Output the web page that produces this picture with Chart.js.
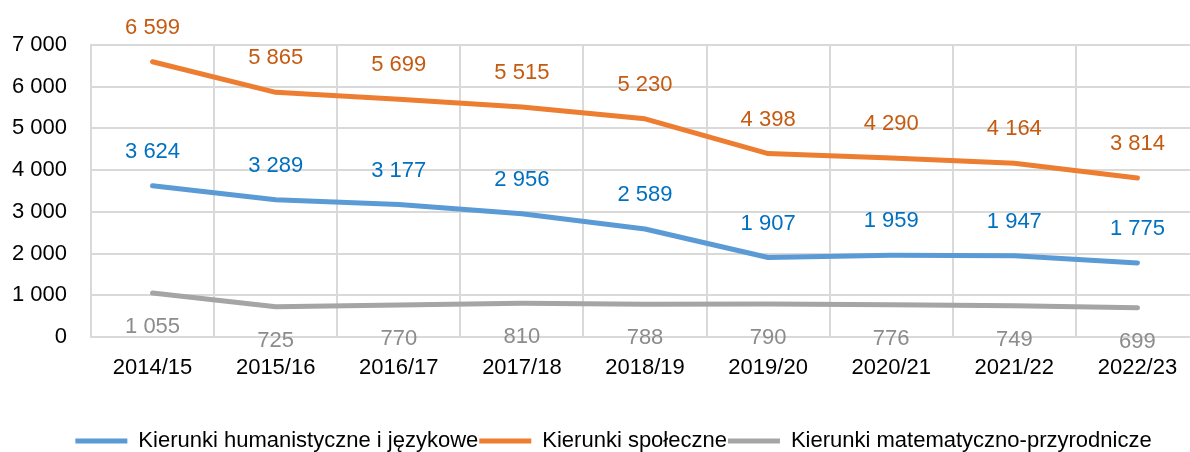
<!DOCTYPE html>
<html>
<head>
<meta charset="utf-8">
<script src="https://cdn.jsdelivr.net/npm/chart.js@4"></script>
<style>
  html, body { margin: 0; padding: 0; background: #fff; overflow: hidden; }
  #wrap { width: 1200px; height: 462px; position: relative; }
</style>
</head>
<body>
<div id="wrap"><canvas id="kierunkiChart"></canvas></div>
<script>
var years = ['2014/15', '2015/16', '2016/17', '2017/18', '2018/19', '2019/20', '2020/21', '2021/22', '2022/23'];
var humanistyczne = [3624, 3289, 3177, 2956, 2589, 1907, 1959, 1947, 1775];
var spoleczne = [6599, 5865, 5699, 5515, 5230, 4398, 4290, 4164, 3814];
var matematyczne = [1055, 725, 770, 810, 788, 790, 776, 749, 699];
var yTicks = [0, 1000, 2000, 3000, 4000, 5000, 6000, 7000];

var FONT = "'Liberation Sans', Arial, sans-serif";

function fmt(n) {
    return String(n).replace(/\B(?=(\d{3})+(?!\d))/g, ' ');
}

// simple data labels, above or below each point
var pointLabels = {
    id: 'pointLabels',
    afterDatasetsDraw: function(chart) {
        var ctx = chart.ctx;
        ctx.save();
        ctx.font = '22px ' + FONT;
        ctx.textAlign = 'center';
        ctx.textBaseline = 'middle';
        chart.data.datasets.forEach(function(ds, i) {
            var meta = chart.getDatasetMeta(i);
            ctx.fillStyle = ds.labelColor;
            meta.data.forEach(function(pt, j) {
                var dy = ds.labelBelow ? 34 : -34;
                ctx.fillText(fmt(ds.data[j]), pt.x, pt.y + dy);
            });
        });
        ctx.restore();
    }
};

// legend sits a bit right of the canvas centre in the original
var legendShift = {
    id: 'legendShift',
    afterLayout: function(chart) {
        chart.legend.left += 14;
        chart.legend.right += 14;
    }
};

document.addEventListener('DOMContentLoaded', function() {
    var ctx = document.getElementById('kierunkiChart').getContext('2d');
    new Chart(ctx, {
        type: 'line',
        data: {
            labels: years,
            datasets: [{
                label: 'Kierunki humanistyczne i językowe',
                data: humanistyczne,
                borderColor: '#5B9BD5',
                backgroundColor: '#5B9BD5',
                borderWidth: 5,
                labelColor: '#0070C0'
            }, {
                label: 'Kierunki społeczne',
                data: spoleczne,
                borderColor: '#ED7D31',
                backgroundColor: '#ED7D31',
                borderWidth: 5,
                labelColor: '#C55A11'
            }, {
                label: 'Kierunki matematyczno-przyrodnicze',
                data: matematyczne,
                borderColor: '#A5A5A5',
                backgroundColor: '#A5A5A5',
                borderWidth: 5,
                labelColor: '#8C8C8C',
                labelBelow: true
            }]
        },
        options: {
            responsive: true,
            maintainAspectRatio: false,
            animation: false,
            elements: {
                line: { tension: 0, borderCapStyle: 'round', borderJoinStyle: 'round' },
                point: { radius: 0, hoverRadius: 0 }
            },
            layout: { padding: { top: 45, right: 1, bottom: 0, left: 0 } },
            plugins: {
                tooltip: { enabled: false },
                legend: {
                    position: 'bottom',
                    labels: {
                        usePointStyle: true,
                        pointStyle: 'line',
                        pointStyleWidth: 52,
                        padding: 1,
                        color: '#000',
                        font: { family: FONT, size: 22 }
                    }
                }
            },
            scales: {
                x: {
                    offset: true,
                    grid: { offset: true, color: '#D9D9D9', lineWidth: 2, drawTicks: false },
                    border: { color: '#D9D9D9', width: 2 },
                    ticks: { color: '#000', padding: 18, font: { family: FONT, size: 22 }, maxRotation: 0 },
                    afterFit: function(s) { s.height = 92; }
                },
                y: {
                    min: 0,
                    max: 7000,
                    afterBuildTicks: function(s) { s.ticks = yTicks.map(function(v) { return { value: v }; }); },
                    grid: { color: '#D9D9D9', lineWidth: 2, drawTicks: false },
                    border: { color: '#D9D9D9', width: 2 },
                    ticks: {
                        color: '#000',
                        padding: 24,
                        font: { family: FONT, size: 22 },
                        callback: function(v) { return fmt(v); }
                    },
                    afterFit: function(s) { s.width = 91; }
                }
            }
        },
        plugins: [pointLabels, legendShift]
    });
});
</script>
</body>
</html>
